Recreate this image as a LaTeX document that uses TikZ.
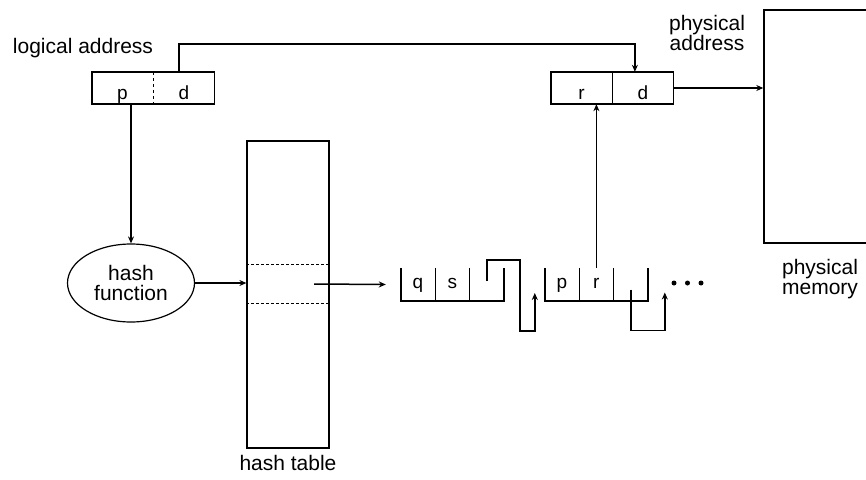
\documentclass[tikz,border=0pt]{standalone}
\usepackage{fontspec}
\setsansfont{Liberation Sans}
\usetikzlibrary{arrows.meta,positioning,shapes.geometric}
\tikzset{
  font=\sffamily\fontsize{21}{20}\selectfont,
  arrow/.style={-{Stealth[length=7pt,width=6pt]},draw=black,line width=1.5pt},
  txt/.style={align=center,inner sep=0pt},
  field/.style={rectangle,draw=none,minimum width=61pt,minimum height=32pt,inner sep=0pt,
    text height=22pt,text depth=0pt,font=\sffamily\fontsize{19}{20}\selectfont},
  cell/.style={rectangle,draw=none,minimum width=34pt,minimum height=33pt,inner sep=0pt,
    text height=11pt,text depth=4pt,font=\sffamily\fontsize{19}{20}\selectfont},
  hashbox/.style={ellipse,draw=black,line width=1.2pt,minimum width=127pt,minimum height=78pt,
    align=center,inner sep=0pt},
  tablebox/.style={rectangle,draw=black,line width=1.2pt,minimum width=82pt,minimum height=307pt},
  memorybox/.style={rectangle,draw=black,line width=1.4pt,minimum width=136pt,minimum height=233pt},
  outline/.style={draw=black,line width=1.5pt},
}

\begin{document}
\begin{tikzpicture}[x=1pt,y=-1pt]
\useasboundingbox (0,0) rectangle (866,479);

% logical address
\node[txt] (logical) at (83,48) {logical address};
\node[field] (lp) at (122.5,88) {p};
\node[field,right=0pt of lp] (ld) {d};
\draw[outline] (lp.north west) rectangle (ld.south east);
\draw[dashed,line width=1pt] (lp.north east) -- (lp.south east);

% physical address
\node[txt] (physaddr) at (707,33) {physical\\address};
\node[field] (pr) at (581.5,88) {r};
\node[field,right=0pt of pr] (pd) {d};
\draw[outline] (pr.north west) rectangle (pd.south east);
\draw[line width=1pt] (pr.north east) -- (pr.south east);

% physical memory (runs off the right edge)
\node[memorybox] (memory) at (832,126.5) {};
\node[txt] (physmem) at (820,279) {physical\\memory};

\node[hashbox] (hash) at (131,283) {hash\\function};

% hash table
\node[tablebox] (htable) at (288,294.5) {};
\draw[densely dashed] ([yshift=-124pt]htable.north west) -- ([yshift=-124pt]htable.north east);
\draw[densely dashed] ([yshift=-163pt]htable.north west) -- ([yshift=-163pt]htable.north east);
\coordinate (slot) at (314,284);
\node[txt] (tablename) at (288,463) {hash table};

% chain
\node[cell] (q) at (418,284.5) {q};
\node[cell,right=0pt of q] (s) {s};
\node[cell,right=0pt of s] (n1) {};
\draw[outline] (q.north west) -- (q.south west) -- (n1.south east) -- (n1.north east);
\draw[line width=1pt] (q.north east) -- (q.south east) (s.north east) -- (s.south east);

\node[cell] (p2) at (562,284.5) {p};
\node[cell,right=0pt of p2] (r2) {r};
\node[cell,right=0pt of r2] (n2) {};
\draw[outline] (p2.north west) -- (p2.south west) -- (n2.south east) -- (n2.north east);
\draw[line width=1pt] (p2.north east) -- (p2.south east) (r2.north east) -- (r2.south east);

\foreach \i in {0,1,2}
  \fill (674+13.5*\i,283) circle (2.5);

% connectors
\draw[arrow] (lp.south -| hash.north) -- (hash.north);
\draw[arrow] ([xshift=-5pt]ld.north) -- ++(0,-28) -| ([xshift=-8pt]pd.north);
\draw[arrow] (pd.east) -- (pd.east -| memory.west);
\draw[arrow] (hash.east) -- (hash.east -| htable.west);
\draw[arrow] (slot) -- ([xshift=-15pt]q.west);
\draw[arrow] (r2.north) -- (r2.north |- pr.south);
\draw[arrow] ([yshift=3.5pt]n1.center) -- ++(0,-21) -| ++(33,71) -| ++(15,-38);
\draw[arrow] ([yshift=-5pt]n2.center) |- ++(34,41) -- ++(0,-38);

\end{tikzpicture}
\end{document}
